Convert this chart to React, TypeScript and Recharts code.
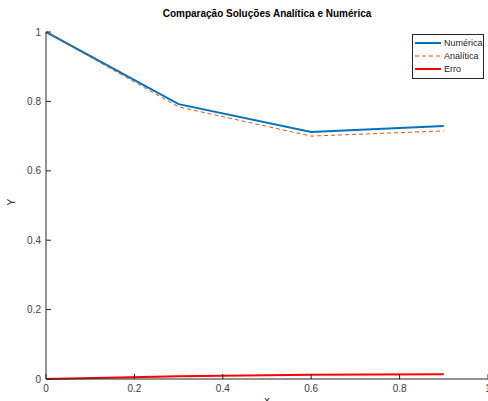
import React from 'react';
import { LineChart, Line, XAxis, YAxis, Label } from 'recharts';

const xs = [0, 0.3, 0.6, 0.9];
const numerica = [1, 0.792, 0.712, 0.729];
const analitica = [1, 0.784, 0.7, 0.715];
const erro = [0, 0.008, 0.012, 0.014];
const ticks = [0, 0.2, 0.4, 0.6, 0.8, 1];

const data = xs.map((x, i) => ({ x, num: numerica[i], ana: analitica[i], err: erro[i] }));

const FONT = '"Liberation Sans", Arial, sans-serif';
const AXIS = '#262626';

const series = [
  { key: 'num', name: 'Numérica', color: '#0072BD', width: 2, dash: undefined as string | undefined },
  { key: 'ana', name: 'Analítica', color: '#D95319', width: 1, dash: '4 3' },
  { key: 'err', name: 'Erro', color: '#FF0000', width: 2, dash: undefined as string | undefined },
];

function BottomTick(props: any) {
  const { x, y, payload } = props;
  const axisY = y - 6;
  return (
    <g>
      <line x1={x} x2={x} y1={axisY} y2={axisY - 5} stroke={AXIS} />
      <text x={x} y={y} dy="0.71em" textAnchor="middle" fontSize={10} fill="#404040" fontFamily={FONT}>
        {String(payload.value)}
      </text>
    </g>
  );
}

function TopTick(props: any) {
  const { x, y } = props;
  return <line x1={x} x2={x} y1={y} y2={y + 5} stroke={AXIS} />;
}

function LeftTick(props: any) {
  const { x, y, payload } = props;
  const axisX = x + 5;
  return (
    <g>
      <line x1={axisX} x2={axisX + 5} y1={y} y2={y} stroke={AXIS} />
      <text x={x} y={y} dy="0.35em" textAnchor="end" fontSize={10} fill="#404040" fontFamily={FONT}>
        {String(payload.value)}
      </text>
    </g>
  );
}

function LegendBox() {
  return (
    <div
      style={{
        position: 'absolute',
        left: 412,
        top: 34,
        border: '1px solid #262626',
        background: '#fff',
        width: 72,
        padding: '1px 0 3px',
        fontFamily: FONT,
        fontSize: 9,
        color: '#262626',
        boxSizing: 'border-box',
      }}
    >
      {series.map((s) => (
        <div key={s.key} style={{ display: 'flex', alignItems: 'center', height: 13 }}>
          <svg width={30} height={6} style={{ marginLeft: 1 }}>
            <line
              x1={1}
              x2={27}
              y1={3}
              y2={3}
              stroke={s.color}
              strokeWidth={s.width}
              strokeDasharray={s.dash}
            />
          </svg>
          <span>{s.name}</span>
        </div>
      ))}
    </div>
  );
}

export default function App() {
  return (
    <div style={{ position: 'absolute', left: 0, top: 0, width: 488, height: 401, background: '#fff' }}>
      <div
        style={{
          position: 'absolute',
          left: 46,
          width: 442,
          top: 8,
          textAlign: 'center',
          fontFamily: FONT,
          fontWeight: 'bold',
          fontSize: 10,
          color: '#000',
        }}
      >
        Comparação Soluções Analítica e Numérica
      </div>
      <LineChart width={488} height={401} data={data} margin={{ top: 32, right: 0, bottom: 0, left: 0 }}>
        <XAxis
          dataKey="x"
          type="number"
          domain={[0, 1]}
          ticks={ticks}
          height={22}
          tickSize={0}
          tickMargin={6}
          tickLine={false}
          stroke={AXIS}
          tick={<BottomTick />}
          interval={0}
        >
          <Label value="x" position="insideBottom" offset={-3} fontSize={11} fill="#262626" fontFamily={FONT} />
        </XAxis>
        <XAxis
          xAxisId="top"
          orientation="top"
          dataKey="x"
          type="number"
          domain={[0, 1]}
          ticks={ticks}
          height={0}
          tickSize={0}
          tickMargin={0}
          tickLine={false}
          stroke={AXIS}
          tick={<TopTick />}
          interval={0}
        />
        <YAxis
          type="number"
          domain={[0, 1]}
          ticks={ticks}
          width={46}
          tickSize={0}
          tickMargin={5}
          tickLine={false}
          stroke={AXIS}
          tick={<LeftTick />}
          interval={0}
        >
          <Label value="Y" angle={-90} position="insideLeft" offset={11} fontSize={10} fill="#262626" fontFamily={FONT} />
        </YAxis>
        <Line dataKey="num" name="Numérica" stroke="#0072BD" strokeWidth={2} dot={false} isAnimationActive={false} type="linear" />
        <Line
          dataKey="ana"
          name="Analítica"
          stroke="#D95319"
          strokeWidth={1}
          strokeDasharray="4 3"
          dot={false}
          isAnimationActive={false}
          type="linear"
        />
        <Line dataKey="err" name="Erro" stroke="#FF0000" strokeWidth={2} dot={false} isAnimationActive={false} type="linear" />
      </LineChart>
      <LegendBox />
    </div>
  );
}
